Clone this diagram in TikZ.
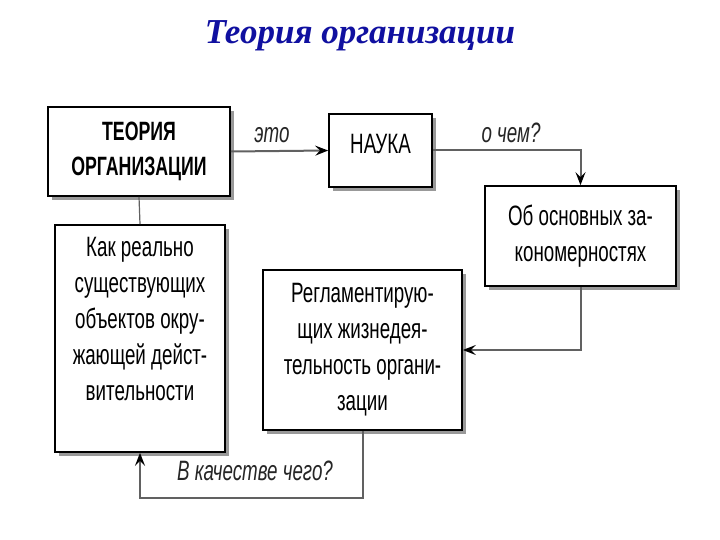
\documentclass[tikz,border=0pt]{standalone}
\usepackage{fontspec}
\setmainfont{Liberation Sans}[FakeStretch=0.67]
\newfontfamily\titul{Liberation Serif}
\usetikzlibrary{arrows.meta,shadows}

\tikzset{
	blok/.style={draw=black, line width=1.7pt, fill=white,
		drop shadow={shadow xshift=4pt, shadow yshift=-4pt, fill=gray!80, opacity=1},
		align=center, font=\fontsize{28}{36}\selectfont},
	tekst/.style={align=center, font=\fontsize{28}{36}\selectfont},
	svyaz/.style={draw=black!62, line width=2pt},
	strelka/.style={svyaz, -{Stealth[black, length=13pt, width=10pt, inset=5pt]}},
	metka/.style={font=\fontsize{28}{30}\selectfont\itshape, text=black!85}
}

\begin{document}
\begin{tikzpicture}[x=1pt, y=-1pt]
\useasboundingbox[fill=white] (0,0) rectangle (720,540);

% title
\node[text={rgb,255:red,16;green,16;blue,160}, font=\titul\fontsize{35}{38}\selectfont\bfseries\itshape] (title) at (360,36) {Теория организации};

% boxes
\node[blok, minimum width=182pt, minimum height=89pt, font=\fontsize{26.5}{35}\selectfont\bfseries] (teoriya) at (139,151.5) {ТЕОРИЯ\\ОРГАНИЗАЦИИ};
\node[blok, minimum width=103pt, minimum height=73pt, text depth=14pt] (nauka) at (380.5,150.5) {НАУКА};
\node[blok, minimum width=191pt, minimum height=100pt] (osnov) at (580.5,236) {Об основных за-\\кономерностях};
\node[blok, minimum width=170pt, minimum height=227pt] (kak) at (140,338.5) {};
\node[tekst] (kaktxt) at (140,319) {Как реально\\существующих\\объектов окру-\\жающей дейст-\\вительности};
\node[blok, minimum width=199pt, minimum height=160pt] (regl) at (362.5,350) {Регламентирую-\\щих жизнедея-\\тельность органи-\\зации};

% connectors
\coordinate (niz) at (362.5,498);
\draw[svyaz, line width=1.2pt] (teoriya.south) -- (kak.north);
\draw[strelka] (teoriya.east) -- (nauka.west);
\draw[strelka] (nauka.east) -| (osnov.north);
\draw[strelka] (osnov.south) |- (regl.east);
\draw[strelka] (regl.south) -- (niz) -| (kak.south);

% labels
\node[metka] (eto) at (272,135) {это};
\node[metka] (ochem) at (511,133) {о чем?};
\node[metka] (kachestvo) at (255,471) {В качестве чего?};

\end{tikzpicture}
\end{document}
